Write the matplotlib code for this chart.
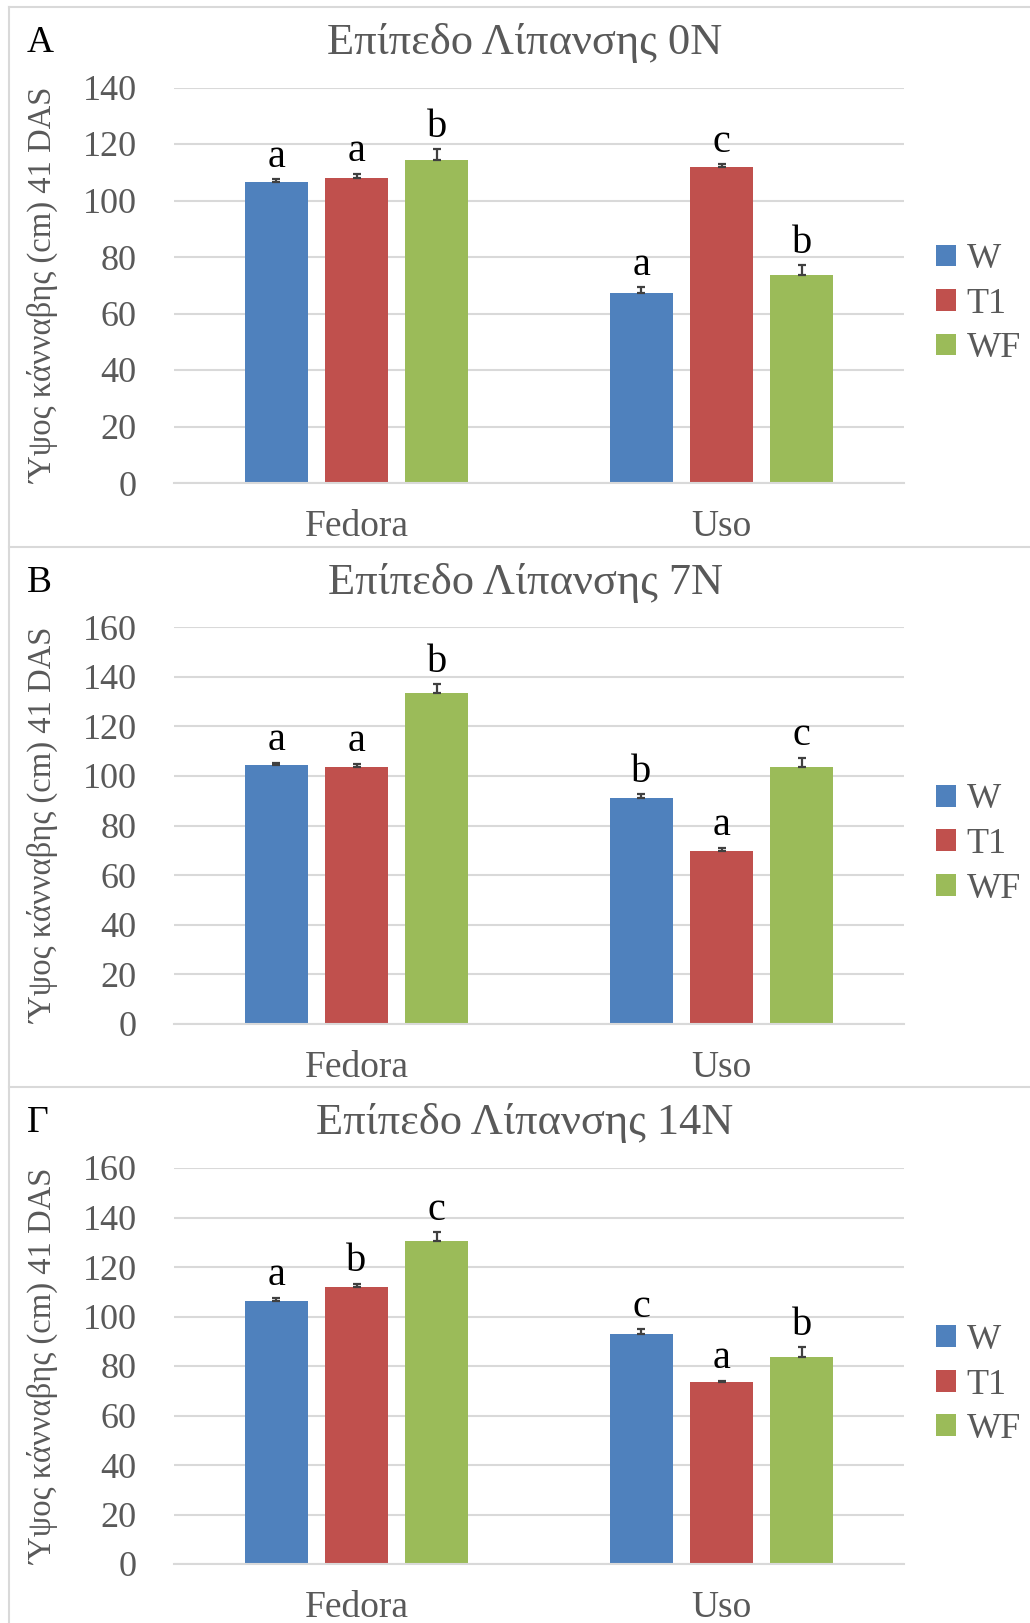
import matplotlib
matplotlib.use("Agg")
import matplotlib.pyplot as plt
from matplotlib.patches import Patch
from matplotlib.lines import Line2D
import numpy as np

plt.rcParams['font.family'] = ['Liberation Serif', 'DejaVu Serif']

# Data
cultivars = ["Fedora", "Uso"]
treatments = ["W", "T1", "WF"]
panel_letters = ["A", "B", "Γ"]
panel_titles = ["Επίπεδο Λίπανσης 0N", "Επίπεδο Λίπανσης 7N", "Επίπεδο Λίπανσης 14N"]
y_max = [140, 160, 160]

# heights per panel: rows = treatment (W, T1, WF), cols = cultivar (Fedora, Uso)
height_0N = [[106.7, 67.4], [108.1, 112.0], [114.3, 73.6]]
height_7N = [[104.2, 91.1], [103.5, 69.9], [133.3, 103.6]]
height_14N = [[106.4, 93.1], [111.9, 73.4], [130.4, 83.6]]

err_0N = [[0.8, 1.9], [1.3, 0.9], [3.9, 3.5]]
err_7N = [[1.0, 1.5], [1.3, 1.1], [3.6, 3.8]]
err_14N = [[1.2, 1.8], [1.4, 0.7], [3.7, 4.0]]

letters_0N = [["a", "a"], ["a", "c"], ["b", "b"]]
letters_7N = [["a", "b"], ["a", "a"], ["b", "c"]]
letters_14N = [["a", "c"], ["b", "a"], ["c", "b"]]

heights = [height_0N, height_7N, height_14N]
errors = [err_0N, err_7N, err_14N]
letters = [letters_0N, letters_7N, letters_14N]

colors = ["#4F81BD", "#C0504D", "#9BBB59"]
gray = "#595959"
grid_col = "#D9D9D9"

W, H = 1030, 1623
fig = plt.figure(figsize=(W / 100, H / 100), dpi=100)

# pixel layout of each panel: (panel top, axes top, axes bottom)
panel_tops = [7, 547, 1087]
axes_tops = [87.5, 627, 1168]
axes_bottoms = [483, 1024, 1564]

# panel frames
for i, pt in enumerate(panel_tops):
    fig.add_artist(Line2D([9 / W, 1.0], [1 - pt / H] * 2, color=grid_col, lw=1.5))
fig.add_artist(Line2D([9 / W] * 2, [1 - 7 / H, 0], color=grid_col, lw=1.5))

x = np.arange(len(cultivars))
bw = 0.173
step = 0.22

for p in range(3):
    top, bot = axes_tops[p], axes_bottoms[p]
    ax = fig.add_axes([174 / W, 1 - bot / H, 730 / W, (bot - top) / H])
    for t in range(3):
        xs = x + (t - 1) * step
        vals = np.array(heights[p][t])
        ers = np.array(errors[p][t])
        ax.bar(xs, vals, width=bw, color=colors[t], zorder=2, label=treatments[t])
        ax.errorbar(xs, vals, yerr=[np.zeros_like(ers), ers], fmt="none",
                    ecolor="#404040", elinewidth=1.6, capsize=3, capthick=1.6, zorder=3)
        for xi, v, e, lt in zip(xs, vals, ers, letters[p][t]):
            ax.annotate(lt, (xi, v + e), xytext=(0, 9), textcoords="offset points",
                        ha="center", va="baseline", fontsize=29, color="black")
    ax.set_xlim(-0.5, 1.5)
    ax.set_ylim(0, y_max[p])
    ax.set_yticks(np.arange(0, y_max[p] + 1, 20))
    ax.set_xticks(x)
    ax.set_xticklabels(cultivars)
    ax.tick_params(axis="y", length=0, pad=27, labelsize=26, labelcolor=gray)
    ax.tick_params(axis="x", length=0, pad=19, labelsize=27, labelcolor=gray)
    ax.grid(axis="y", color=grid_col, lw=1.5, zorder=0)
    for s in ax.spines.values():
        s.set_visible(False)
    ax.spines["bottom"].set_visible(True)
    ax.spines["bottom"].set_color(grid_col)
    ax.spines["bottom"].set_linewidth(1.5)

    mid = (top + bot) / 2
    fig.text(43 / W, 1 - mid / H, "Ύψος κάνναβης (cm) 41 DAS", rotation=90,
             ha="center", va="center", fontsize=23.5, color=gray)
    title_y = panel_tops[p] + 36
    fig.text(525 / W, 1 - title_y / H, panel_titles[p], ha="center", va="center",
             fontsize=32, color=gray)
    fig.text(27 / W, 1 - title_y / H, panel_letters[p], ha="left", va="center",
             fontsize=27, color="black")

    handles = [Patch(facecolor=c) for c in colors]
    ax.legend(handles, treatments, loc="center left",
              bbox_to_anchor=(936 / W, 1 - (mid + 19) / H), bbox_transform=fig.transFigure,
              frameon=False, fontsize=26, labelcolor=gray, handlelength=0.55,
              handleheight=0.55, handletextpad=0.3, labelspacing=0.32, borderpad=0,
              borderaxespad=0)

fig.savefig("out.png", dpi=100)
